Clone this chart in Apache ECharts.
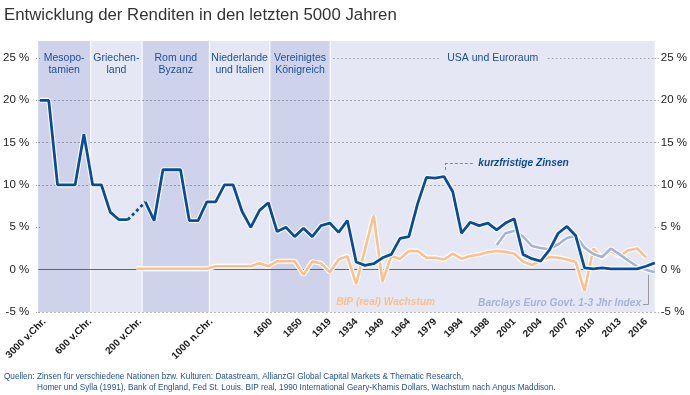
<!DOCTYPE html>
<html><head><meta charset="utf-8">
<script src="https://cdn.jsdelivr.net/npm/echarts@6/dist/echarts.min.js"></script>
<style>html,body{margin:0;padding:0;background:#fff}#c{width:690px;height:395px}</style>
</head><body><div id="c"></div>
<script>
// ---- data ----
const eraNames = ['Mesopo-\ntamien', 'Griechen-\nland', 'Rom und\nByzanz', 'Niederlande\nund Italien', 'Vereinigtes\nKönigreich', 'USA und Euroraum'];
const eraEdges = [-0.2, 5.77, 11.63, 19.29, 26.17, 33.04, 70];
const xTickPos = [0.5, 5.7, 11.4, 19.5, 26.3, 29.7, 33, 36, 39, 42, 45, 48, 51, 54, 57, 60, 63, 66, 69];
const xTickLabels = ['3000 v.Chr.', '600 v.Chr.', '200 v.Chr.', '1000 n.Chr.', '1600', '1850', '1919', '1934', '1949', '1964', '1979', '1994', '1998', '2001', '2004', '2007', '2010', '2013', '2016'];
const yTicks = [-5, 0, 5, 10, 15, 20, 25];

const zinsen = [20, 20, 10, 10, 10, 16, 10, 10, 6.8, 5.9, 5.9, null,
  8.0, 5.8, 11.8, 11.8, 11.8, 5.8, 5.8, 8.0, 8.0, 10.0, 10.0,
  6.9, 5.0, 7.0, 7.9, 4.5, 5.0, 3.9, 4.9, 3.9, 5.2, 5.5, 4.4, 5.8,
  0.9, 0.5, 0.7, 1.4, 1.8, 3.7, 3.9, 7.8, 10.9, 10.8, 11.0, 9.2, 4.3, 5.6,
  5.2, 5.5, 4.7, 5.5, 6.0, 1.8, 1.3, 1.0, 2.3, 4.3, 5.1, 4.0,
  0.2, 0.1, 0.2, 0.1, 0.1, 0.1, 0.1, 0.4, 0.8];
const bip = [null, null, null, null, null, null, null, null, null, null, null,
  0.1, 0.1, 0.1, 0.1, 0.1, 0.1, 0.1, 0.1, 0.1,
  0.4, 0.4, 0.4, 0.4, 0.4, 0.75, 0.4, 1.0, 1.0, 1.0, -0.6, 0.95, 0.75, -0.3, 1.2, 1.6,
  -1.7, 2.4, 6.4, -1.4, 1.6, 1.3, 2.2, 2.2, 1.4, 1.4, 1.2, 1.9, 1.3, 1.6,
  1.8, 2.05, 2.2, 2.1, 1.9, 0.95, 0.55, 1.05, 1.5, 1.4, 1.2, 0.9,
  -2.5, 2.5, 1.4, 2.2, 1.6, 2.3, 2.5, 1.45, null];
const barclays = [null, null, null, null, null, null, null, null, null, null,
  null, null, null, null, null, null, null, null, null, null,
  null, null, null, null, null, null, null, null, null, null,
  null, null, null, null, null, null, null, null, null, null,
  null, null, null, null, null, null, null, null, null, null, null, null,
  2.9, 4.3, 4.6, 3.9, 2.8, 2.55, 2.4, 3.0, 3.75, 4.0,
  2.6, 1.85, 1.5, 2.5, 1.8, 1.05, 0.35, 0.0, -0.3];

// ---- styling ----
const SANS = "'Liberation Sans',Arial,sans-serif";
const NAVY = '#0b4c97';
const ORANGE = '#fdbf8b';
const LIGHT = '#a3b4d8';
const TEXTNAVY = '#1d4f9a';

const toXY = arr => arr.map((v, i) => [i, v]);
const gapLinks = [];
zinsen.forEach((v, i) => {
  if (v == null && i > 0 && i < zinsen.length - 1 && zinsen[i - 1] != null && zinsen[i + 1] != null)
    gapLinks.push([[i - 1, zinsen[i - 1]], [i + 1, zinsen[i + 1]]]);
});

const bandColors = ['rgba(30,50,160,0.215)', 'rgba(30,50,160,0.112)'];
const half = 0.06;
const bands = eraNames.map((n, i) => [
  { name: n, xAxis: eraEdges[i] + (i ? half : 0), itemStyle: { color: bandColors[i % 2] } },
  { xAxis: eraEdges[i + 1] - (i < eraNames.length - 1 ? half : 0) }
]);

const lineBase = { type: 'line', showSymbol: false, symbol: 'none', silent: true, connectNulls: false, animation: false };

const yAxisBase = {
  type: 'value', min: -5, max: 27, interval: 5,
  axisLine: { show: false },
  axisTick: { show: true, length: 4, customValues: [-5, 5, 10, 15, 20, 25], lineStyle: { color: '#9a9a9a', type: [1, 2] } },
  axisLabel: { customValues: yTicks, formatter: v => v + ' %', color: '#222', fontFamily: SANS, fontSize: 11.5 }
};

const annoFont = { fontFamily: SANS, fontStyle: 'italic', fontWeight: 'bold', fontSize: 10.2 };

const option = {
  animation: false,
  title: [
    { text: 'Entwicklung der Renditen in den letzten 5000 Jahren', left: 4, top: 7, padding: 0,
      textStyle: { fontFamily: SANS, fontSize: 16.8, fontWeight: 'normal', color: '#333' } },
    { text: 'Quellen:', left: 4, top: 371, padding: 0,
      textStyle: { fontFamily: SANS, fontSize: 8.2, fontWeight: 'normal', color: TEXTNAVY, lineHeight: 11 } },
    { text: 'Zinsen für verschiedene Nationen bzw. Kulturen: Datastream, AllianzGI Global Capital Markets & Thematic Research,\nHomer und Sylla (1991), Bank of England, Fed St. Louis. BIP real, 1990 International Geary-Khamis Dollars, Wachstum nach Angus Maddison.',
      left: 37, top: 371, padding: 0,
      textStyle: { fontFamily: SANS, fontSize: 8.2, fontWeight: 'normal', color: TEXTNAVY, lineHeight: 11 } }
  ],
  grid: { left: 35, right: 32, top: 41, bottom: 83 },
  xAxis: {
    type: 'value', min: -0.2, max: 70,
    axisLine: { show: false }, axisTick: { show: false }, splitLine: { show: false },
    axisLabel: {
      customValues: xTickPos,
      formatter: v => { const k = xTickPos.findIndex(p => Math.abs(p - v) < 1e-6); return k >= 0 ? xTickLabels[k] : ''; },
      rotate: 45, margin: 8, color: '#1a1a1a', fontFamily: SANS, fontWeight: 'bold', fontSize: 10
    }
  },
  yAxis: [
    Object.assign({}, yAxisBase, {
      position: 'left',
      axisLabel: Object.assign({}, yAxisBase.axisLabel, { margin: 9 }),
      splitLine: { show: true, showMaxLine: false,
        lineStyle: { color: ['#a0a0a0', 'rgba(0,0,0,0)', '#a0a0a0', '#a0a0a0', '#a0a0a0', '#a0a0a0', 'rgba(0,0,0,0)'], type: [1.5, 2.5], width: 1 } }
    }),
    Object.assign({}, yAxisBase, {
      position: 'right',
      axisLabel: Object.assign({}, yAxisBase.axisLabel, { margin: 6 }),
      splitLine: { show: false }
    })
  ],
  series: [
    Object.assign({}, lineBase, {
      name: 'bipHalo', data: toXY(bip), z: 2,
      lineStyle: { color: '#fff', width: 5 },
      markArea: { silent: true, data: bands,
        label: { show: true, position: 'insideTop', distance: 11, color: TEXTNAVY, fontFamily: SANS, fontSize: 10.5, lineHeight: 12 } },
      markLine: { silent: true, z: 1.5, symbol: ['none', 'none'], label: { show: false },
        data: [
          { yAxis: 0, lineStyle: { color: '#666', width: 1, type: 'solid' } },
          [{ coord: [33.38, 25], lineStyle: { color: '#a0a0a0', width: 1, type: [1.5, 2.5] } }, { coord: [45.43, 25] }],
          [{ coord: [57.83, 25], lineStyle: { color: '#a0a0a0', width: 1, type: [1.5, 2.5] } }, { coord: [70, 25] }]
        ] }
    }),
    Object.assign({}, lineBase, { name: 'BIP (real) Wachstum', data: toXY(bip), z: 3, lineStyle: { color: ORANGE, width: 2.6 } }),
    Object.assign({}, lineBase, {
      name: 'barHalo', data: toXY(barclays), z: 4, lineStyle: { color: '#fff', width: 5 },
      markLine: { silent: true, symbol: ['none', 'none'], label: { show: false },
        data: [
          [{ coord: [46.1, 11.77], lineStyle: { color: '#8a8a8a', width: 1, type: [3, 2] } }, { coord: [46.1, 12.6] }],
          [{ coord: [46.1, 12.6], lineStyle: { color: '#8a8a8a', width: 1, type: [3, 2] } }, { coord: [49.5, 12.6] }],
          [{ coord: [69.3, -0.63], lineStyle: { color: '#9a9a9a', width: 1, type: 'solid' } }, { coord: [69.3, -4.05] }],
          [{ coord: [69.3, -4.05], lineStyle: { color: '#9a9a9a', width: 1, type: 'solid' } }, { coord: [68.65, -4.05] }]
        ] }
    }),
    Object.assign({}, lineBase, { name: 'Barclays Euro Govt. 1-3 Jhr Index', data: toXY(barclays), z: 5, lineStyle: { color: LIGHT, width: 2.6 } }),
    Object.assign({}, lineBase, { name: 'zHalo', data: toXY(zinsen), z: 6, lineStyle: { color: '#fff', width: 5 } }),
    Object.assign({}, lineBase, {
      name: 'kurzfristige Zinsen', data: toXY(zinsen), z: 7, lineStyle: { color: NAVY, width: 2.8 },
      markPoint: { silent: true, symbol: 'circle', symbolSize: 0,
        data: [
          { name: 'kurzfristige Zinsen', coord: [49.9, 12.6],
            label: Object.assign({ show: true, position: 'right', distance: 0, formatter: '{b}', color: NAVY }, annoFont) },
          { name: 'BIP (real) Wachstum', coord: [39.35, -3.8],
            label: Object.assign({ show: true, position: 'inside', formatter: '{b}', color: ORANGE }, annoFont) },
          { name: 'Barclays Euro Govt. 1-3 Jhr Index', coord: [68.45, -3.95],
            label: Object.assign({ show: true, position: 'left', distance: 0, formatter: '{b}', color: LIGHT }, annoFont) }
        ] }
    })
  ].concat(gapLinks.map(seg => Object.assign({}, lineBase, {
    name: 'gap', data: seg, z: 7, lineStyle: { color: NAVY, width: 2.8, type: [3, 3] }
  })))
};

const chart = echarts.init(document.getElementById('c'), null, { renderer: 'canvas' });
chart.setOption(option);
</script></body></html>
